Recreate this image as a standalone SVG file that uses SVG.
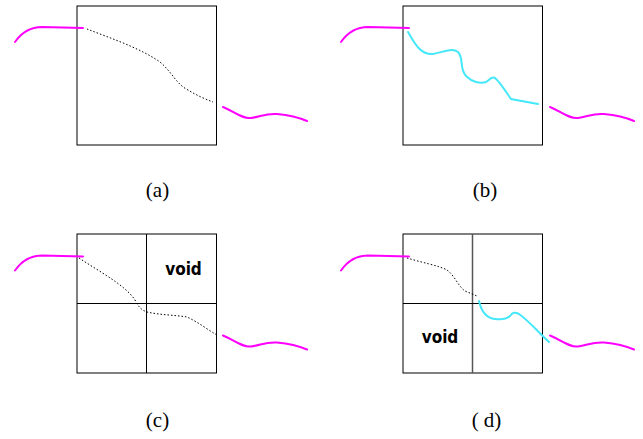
<svg xmlns="http://www.w3.org/2000/svg" width="643" height="439" viewBox="0 0 643 439">
<style>
.box{fill:none;stroke:#000;stroke-width:1}
.mag{fill:none;stroke:#ff00ff;stroke-width:2;stroke-linecap:round}
.cyan{fill:none;stroke:#44e8f8;stroke-width:2;stroke-linecap:round}
.dot{fill:none;stroke:#000;stroke-width:1;stroke-dasharray:1.5 2}
.lbl{font-family:"Liberation Serif","Times New Roman",serif;font-size:21px;text-anchor:middle;fill:#000}
.void{font-family:"DejaVu Sans Condensed","DejaVu Sans",sans-serif;font-stretch:condensed;font-weight:bold;font-size:17px;text-anchor:middle;fill:#000}
</style>
<defs>
<path id="magL" d="M15,42 C22,32 30,27 42,27 L83,28"/>
<path id="magR" d="M223,107 C235,112 242,119 251,118 S266,113 277,114 S300,118 307,121"/>
</defs>
<rect width="643" height="439" fill="#fff"/>
<g id="panel-a">
<rect class="box" x="77" y="6" width="139.5" height="139"/>
<use href="#magL" class="mag"/>
<use href="#magR" class="mag"/>
<path class="dot" d="M87,29 C110,38 140,48 160,62 C172,72 176,84 188,90 C196,95 205,99 213,102"/>
<text class="lbl" x="157.5" y="197">(a)</text>
</g>
<g id="panel-b">
<rect class="box" x="403" y="6" width="139.5" height="139"/>
<use href="#magL" class="mag" transform="translate(326,0)"/>
<use href="#magR" class="mag" transform="translate(327,0)"/>
<path class="cyan" d="M408,32 C414,42 420,55 433,54 C440,53 452,47 458,52 C464,58 459,68 466,76 C472,82 480,84 486,82 C490,80 491,76 495,78 C500,82 506,92 511,99 L538,104"/>
<text class="lbl" x="485" y="197">(b)</text>
</g>
<g id="panel-c">
<rect class="box" x="77" y="234" width="139.5" height="139"/>
<line class="box" x1="146.5" y1="234" x2="146.5" y2="373"/>
<line class="box" x1="77" y1="303.5" x2="216.5" y2="303.5"/>
<use href="#magL" class="mag" transform="translate(0,228.5)"/>
<use href="#magR" class="mag" transform="translate(0,228.5)"/>
<path class="dot" d="M79,258 C100,272 125,285 135,300 C138,306 141,310 147,312 C160,315 175,315 187,317 C198,322 208,330 217,335"/>
<text class="void" x="183.5" y="275">void</text>
<text class="lbl" x="157.5" y="427">(c)</text>
</g>
<g id="panel-d">
<rect class="box" x="403" y="234" width="139.5" height="139"/>
<line x1="472.5" y1="234" x2="472.5" y2="373" style="stroke:#555;stroke-width:1.5"/>
<line class="box" x1="403" y1="303.5" x2="542.5" y2="303.5"/>
<use href="#magL" class="mag" transform="translate(326,228.5)"/>
<use href="#magR" class="mag" transform="translate(327,228.5)"/>
<path class="dot" d="M407,258 C420,262 440,266 447,270 C455,276 458,286 465,291 L477,296"/>
<path class="cyan" d="M479,301 C481,310 486,318 495,319 C503,320 507,319 510,316 C513,312 515,312 519,314 C528,320 540,334 549,342"/>
<text class="void" x="440" y="343">void</text>
<text class="lbl" x="486.5" y="427">( d)</text>
</g>
</svg>
